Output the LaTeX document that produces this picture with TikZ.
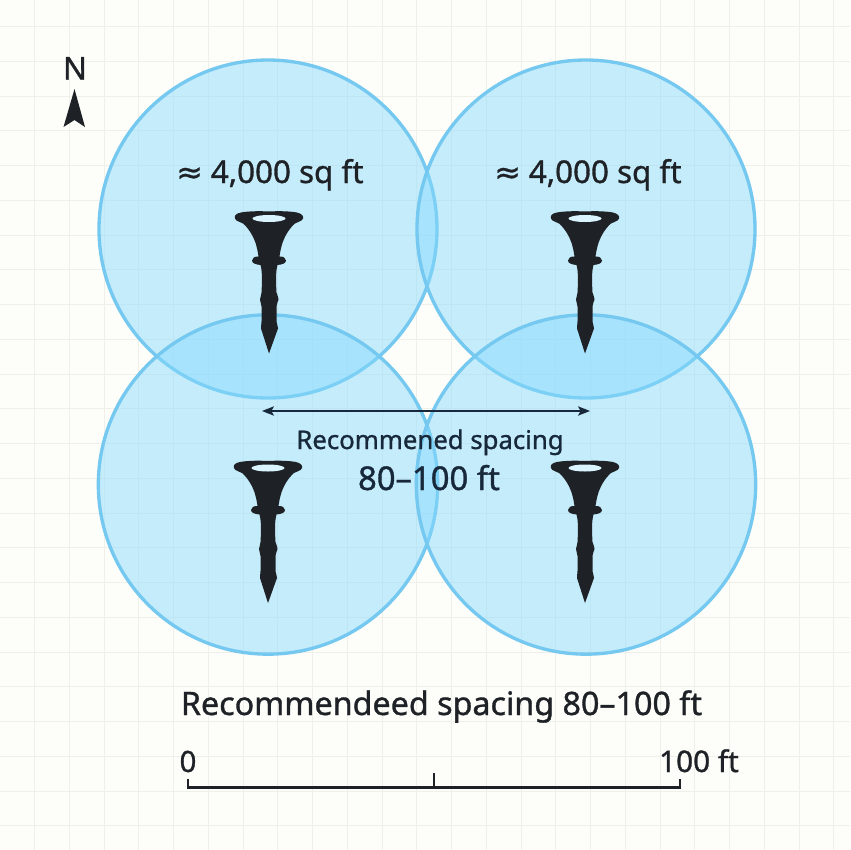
\documentclass[tikz,border=0pt]{standalone}
\usepackage{fontspec}
\setmainfont[FakeBold=1.0]{Noto Sans}
\newfontfamily\symfont[FakeBold=1.0]{DejaVu Sans}
\usetikzlibrary{arrows.meta}
\definecolor{paper}{HTML}{FDFDF9}
\definecolor{gridc}{HTML}{F0F0EB}
\definecolor{zonefill}{HTML}{85DAFF}
\definecolor{zoneline}{HTML}{75C8EF}
\definecolor{ink}{HTML}{1E2226}
\definecolor{navy}{HTML}{16283A}
\tikzset{
  zone/.style={circle,draw=zoneline,line width=2.5pt,fill=zonefill,fill opacity=.46,inner sep=0pt},
  lbl/.style={text=ink,inner sep=0pt,anchor=base},
  spike/.pic={
    \fill[ink] (0,0) .. controls (8,-.5) and (20,-.5) .. (28,1) .. controls (33,2) and (35,5) .. (34,7)
      .. controls (33,10) and (29,10) .. (26,12) .. controls (20,17) and (15,26) .. (13,33)
      .. controls (11.5,38) and (11,42) .. (10.5,45) .. controls (14,45) and (17,46) .. (17,49)
      .. controls (17,52) and (13,53) .. (8.5,53.5) .. controls (6.5,60) and (7,72) .. (7.5,81)
      .. controls (8,84) and (10,86) .. (9.5,88) .. controls (9,91) and (7.5,92) .. (7.5,95)
      -- (7.5,110) .. controls (7.5,112) and (9,114) .. (9,117) -- (0,142)
      -- (-8,117) .. controls (-8,114) and (-7.5,112) .. (-7.5,110) -- (-7.5,95)
      .. controls (-7.5,92) and (-9,91) .. (-9,88) .. controls (-9,86) and (-7.5,84) .. (-7.5,81)
      .. controls (-7,72) and (-6.5,60) .. (-8.5,53.5) .. controls (-13,53) and (-17,52) .. (-17,49)
      .. controls (-17,46) and (-14,45) .. (-10.5,45) .. controls (-11,42) and (-11.5,38) .. (-13,33)
      .. controls (-15,26) and (-20,17) .. (-26,12) .. controls (-29,10) and (-33,10) .. (-34,7)
      .. controls (-35,4) and (-33,2) .. (-28,1) .. controls (-20,-.5) and (-8,-.5) .. (0,0) -- cycle;
    \fill[white!70!zonefill] (0,7) ellipse [x radius=16.5,y radius=3.5];
  }
}
\begin{document}
\begin{tikzpicture}[x=.75pt,y=-.75pt]
\useasboundingbox (0,0) rectangle (850,850);
\fill[paper] (0,0) rectangle (850,850);
\foreach \i in {0,...,24} {
  \draw[gridc,line width=.7pt] ({34.7+34.75*\i},0) -- ++(0,850);
  \draw[gridc,line width=.7pt] (0,{26.7+34.75*\i}) -- ++(850,0);
}
\node[zone,minimum size=253.5pt] (zoneNW) at (268,229) {};
\node[zone,minimum size=253.5pt] (zoneNE) at (586,229) {};
\node[zone,minimum size=254.5pt] (zoneSW) at (268,484.5) {};
\node[zone,minimum size=254.5pt] (zoneSE) at (586,484.5) {};
\pic at (269,211.5) {spike};
\pic at (585,211.5) {spike};
\pic at (268,461) {spike};
\pic at (585,461) {spike};
\node[lbl,font=\fontsize{23.5}{26}\selectfont] (areaNW) at (270,183) {{\symfont ≈} 4,000 sq ft};
\node[lbl,font=\fontsize{23.5}{26}\selectfont] (areaNE) at (588,183) {{\symfont ≈} 4,000 sq ft};
\coordinate (spanL) at (262,411);
\coordinate (spanR) at (590,411);
\draw[navy,line width=1pt,{Stealth[length=9pt,width=7pt,inset=2pt]}-{Stealth[length=9pt,width=7pt,inset=2pt]}] (spanL) -- (spanR);
\node[lbl,text=navy,font=\fontsize{19.3}{22}\selectfont] (recA) at (430,449) {Recommened spacing};
\node[lbl,text=navy,font=\fontsize{24.6}{26}\selectfont] (recB) at (429,490) {80–100 ft};
\node[lbl,font=\fontsize{24.2}{28}\selectfont] (title) at (441.5,715) {Recommendeed spacing 80–100 ft};
\node[lbl,font=\fontsize{22}{26}\selectfont] (zero) at (188,772) {0};
\node[lbl,font=\fontsize{22.3}{26}\selectfont] (hundred) at (699,772) {100 ft};
\coordinate (barL) at (188,787.5);
\coordinate (barM) at (434,787.5);
\coordinate (barR) at (680,787.5);
\draw[ink,line width=1.6pt,line cap=butt,line join=miter] (188,779) -- (barL) -- (barR) -- (680,779);
\draw[ink,line width=1pt] (barM) -- (434,773);
\node[lbl,font=\fontsize{23.5}{26}\selectfont] (north) at (75,79.5) {N};
\fill[ink] (74.5,89) -- (85,127) -- (74.5,120) -- (63.5,127) -- cycle;
\end{tikzpicture}
\end{document}
